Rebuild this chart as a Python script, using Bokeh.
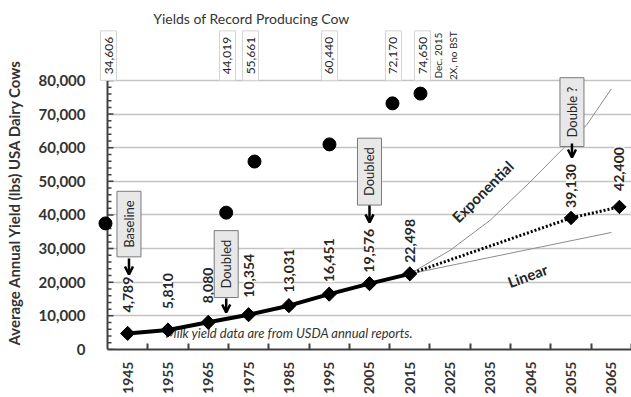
import math
from bokeh.plotting import figure
from bokeh.models import (Range1d, FixedTicker, NumeralTickFormatter, ColumnDataSource,
                          LabelSet, Label, Arrow, OpenHead, BoxAnnotation)
from bokeh.core.properties import value
from bokeh.embed import file_html
from bokeh.resources import INLINE

# ---------------- data ----------------
years = [1945, 1955, 1965, 1975, 1985, 1995, 2005, 2015]
avg_yield = [4789, 5810, 8080, 10354, 13031, 16451, 19576, 22498]

proj_years = [2015, 2055, 2067]
proj_yield = [22498, 39130, 42400]

exp_years = [2015, 2025, 2035, 2045, 2053, 2059, 2065]
exp_yield = [22498, 29500, 38500, 50000, 59700, 67000, 77500]

lin_years = [2015, 2065]
lin_yield = [22498, 34800]

record_years = [1939.5, 1969.45, 1976.47, 1995.07, 2010.7, 2017.65]
record_plot = [37500, 40700, 55900, 61000, 73200, 76100]
record_labels = ["34,606", "44,019", "55,661", "60,440", "72,170", "74,650"]
record_label_years = [1940.25, 1969.77, 1975.48, 1995.07, 2010.95, 2018.15]

tick_years = [1945, 1955, 1965, 1975, 1985, 1995, 2005, 2015, 2025, 2035, 2045, 2055, 2065]
y_ticks = [0, 10000, 20000, 30000, 40000, 50000, 60000, 70000, 80000]

# label gaps above points (px), styling only
label_gap = [21, 21, 19, 17, 13, 12, 11, 11, 10, 16]

FONT = "Lato"
DARK = "#262626"
AXC = "#404040"
NB = "\u00a0"
Y_AXIS_YEAR = 1940  # where the value axis crosses

p = figure(width=631, height=397, x_range=Range1d(1937.52, 2070), y_range=Range1d(0, 103790),
           output_backend="svg", toolbar_location=None,
           min_border_left=97, min_border_right=0, min_border_top=0, min_border_bottom=48)
p.outline_line_color = None
p.background_fill_color = "white"
p.border_fill_color = "white"

# x axis
xa = p.xaxis[0]
xa.ticker = FixedTicker(ticks=tick_years, minor_ticks=[t + 5 for t in tick_years])
xa.major_tick_in = 0
xa.major_tick_out = 0
xa.minor_tick_in = 6
xa.minor_tick_out = 0
xa.minor_tick_line_color = AXC
xa.minor_tick_line_width = 2
xa.axis_line_color = AXC
xa.axis_line_width = 2
xa.major_label_orientation = math.pi / 2
xa.major_label_text_font = FONT
xa.major_label_text_font_style = "bold"
xa.major_label_text_font_size = "14px"
xa.major_label_text_color = "#333333"
xa.major_label_standoff = 12
xa.bounds = (Y_AXIS_YEAR, 2070)

# y axis: labels only from the real axis; line and ticks drawn at 1940 below
ya = p.yaxis[0]
ya.ticker = FixedTicker(ticks=y_ticks)
ya.formatter = NumeralTickFormatter(format="0,0")
ya.bounds = (0, 80000)
ya.axis_line_color = None
ya.major_tick_line_color = None
ya.minor_tick_line_color = None
ya.major_label_text_font = FONT
ya.major_label_text_font_style = "bold"
ya.major_label_text_font_size = "15px"
ya.major_label_text_color = "#333333"
ya.major_label_standoff = 6
ya.axis_label = "Average Annual Yield (lbs) USA Dairy Cows" + NB * 15
ya.axis_label_text_font = FONT
ya.axis_label_text_font_style = "bold"
ya.axis_label_text_font_size = "15px"
ya.axis_label_text_color = "#333333"
ya.axis_label_standoff = 12

p.xgrid.visible = False
p.ygrid.ticker = FixedTicker(ticks=y_ticks[1:])
p.ygrid.grid_line_color = "#c3c3c3"
p.ygrid.grid_line_width = 1.5
# hide grid left of the value axis
p.add_layout(BoxAnnotation(right=Y_AXIS_YEAR, fill_color="white", fill_alpha=1.0,
                           line_color=None, level="underlay"))

# value axis line and inward ticks
minor_y = [v for v in range(0, 80001, 2000) if v % 10000]
p.segment(x0=[Y_AXIS_YEAR], y0=[0], x1=[Y_AXIS_YEAR], y1=[y_ticks[-1]],
          line_color=AXC, line_width=2)
p.ray(x=[Y_AXIS_YEAR] * len(minor_y), y=minor_y, length=4, length_units="screen",
      angle=0, line_color=AXC, line_width=1.5)
p.ray(x=[Y_AXIS_YEAR] * len(y_ticks), y=y_ticks, length=6, length_units="screen",
      angle=0, line_color=AXC, line_width=1.5)

# footnote under the line
p.add_layout(Label(x=1954.4, y=4760, text="Milk yield data are from USDA annual reports.",
                   text_font=FONT, text_font_style="italic", text_font_size="13px",
                   text_color="#333333", text_baseline="middle", level="underlay"))

# trend lines
p.line(lin_years, lin_yield, line_color="#8c8c8c", line_width=1)
p.line(exp_years, exp_yield, line_color="#8c8c8c", line_width=1)

# projection dotted
p.line(proj_years, proj_yield, line_color="black", line_width=3, line_dash="2 2")
p.scatter(proj_years[1:], proj_yield[1:], marker="square", size=9.5, angle=math.pi / 4,
          color="black")

# historical line
p.line(years, avg_yield, line_color="black", line_width=4)
p.scatter(years, avg_yield, marker="square", size=10, angle=math.pi / 4, color="black")

# record cows
p.scatter(record_years, record_plot, marker="circle", size=13, color="black")

# data labels
lab_x = years + proj_years[1:]
lab_y = avg_yield + proj_yield[1:]
src = ColumnDataSource(dict(x=lab_x, y=lab_y, t=[f"{v:,}" for v in lab_y], g=label_gap))
p.add_layout(LabelSet(x="x", y="y", text="t", source=src, angle=math.pi / 2,
                      text_align="left", text_baseline="middle", y_offset="g",
                      text_font=value(FONT), text_font_style="bold", text_font_size="14px",
                      text_color=DARK, background_fill_color="white"))

# record boxes (shadow + box)
for xx, tt in zip(record_label_years, record_labels):
    p.add_layout(Label(x=xx, y=87400, text=tt, angle=math.pi / 2, text_align="center",
                       text_baseline="middle", text_font=FONT, text_font_size="12px",
                       text_alpha=0, background_fill_color="#b0b0b0",
                       padding=dict(left=6, right=6, top=4, bottom=4), x_offset=2, y_offset=-1))
    p.add_layout(Label(x=xx, y=87400, text=tt, angle=math.pi / 2, text_align="center",
                       text_baseline="middle", text_font=FONT, text_font_size="12px",
                       text_color=DARK, background_fill_color="white",
                       border_line_color="#d4d4d4",
                       padding=dict(left=6, right=6, top=4, bottom=4)))

p.add_layout(Label(x=2023.85, y=87400, text="Dec. 2015\n2X, no BST", angle=math.pi / 2,
                   text_align="center", text_baseline="middle", text_font=FONT,
                   text_font_size="10px", text_color=DARK))

p.add_layout(Label(x=1975.7, y=98400, text="Yields of Record Producing Cow",
                   text_align="center", text_baseline="middle", text_font=FONT,
                   text_font_size="14px", text_color="#333333"))

# annotation boxes with arrows
boxes = [("Baseline", 1945.33, 37300, 27070, 22300),
         ("Doubled", 1969.45, 25400, 15170, 11000),
         ("Doubled", 2005.0, 52900, 42800, 37800),
         ("Double ?", 2055.23, 70600, 61300, 57100)]
for tt, xx, yy, y0, y1 in boxes:
    p.add_layout(Label(x=xx, y=yy, text=tt, angle=math.pi / 2, text_align="center",
                       text_baseline="middle", text_font=FONT, text_font_size="13px",
                       text_color=DARK, background_fill_color="#e8e8e8",
                       border_line_color="#7a7a7a", border_line_width=1,
                       padding=dict(left=9, right=9, top=4, bottom=4)))
    p.add_layout(Arrow(x_start=xx, y_start=y0, x_end=xx, y_end=y1, line_width=2.5,
                       line_color="black",
                       end=OpenHead(size=8, line_width=2.5, line_color="black")))

p.add_layout(Label(x=2033.03, y=47000, text="Exponential", angle=math.pi / 4,
                   text_align="center", text_baseline="middle", text_font=FONT,
                   text_font_style="bold", text_font_size="15px", text_color=DARK))
p.add_layout(Label(x=2044.2, y=22000, text="Linear", angle=0.35,
                   text_align="center", text_baseline="middle", text_font=FONT,
                   text_font_style="bold", text_font_size="15px", text_color=DARK))

open("out.html", "w").write(file_html(p, INLINE))
